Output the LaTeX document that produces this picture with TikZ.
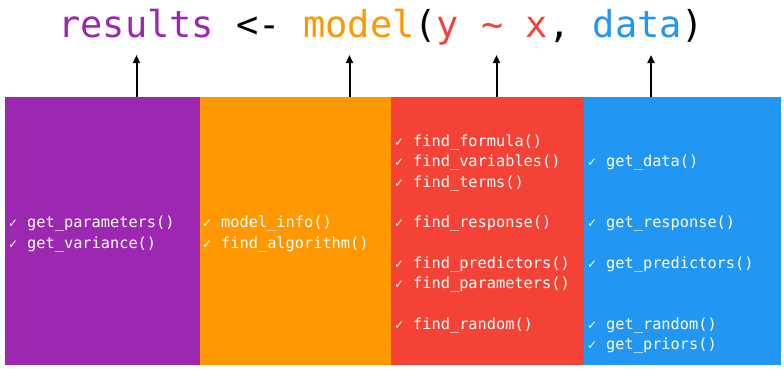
\documentclass[tikz,border=0pt]{standalone}
\usepackage{fontspec}
\usepackage{xcolor}
\usepackage{tikz}
\usetikzlibrary{positioning, arrows.meta}
\newfontfamily\codefont{DejaVu Sans Mono}
\newfontfamily\tickfont{DejaVu Sans}
\definecolor{colpurple}{HTML}{9C27B0}
\definecolor{colorange}{HTML}{FF9800}
\definecolor{colred}{HTML}{F44336}
\definecolor{colblue}{HTML}{2196F3}
\newcommand{\fnitem}[1]{\makebox[19pt][l]{\tickfont\fontsize{12}{12}\selectfont\symbol{"2713}}#1}

\begin{document}
\begin{tikzpicture}[x=1pt,y=-1pt,
  col/.style={minimum height=268pt, inner sep=0pt, outer sep=0pt},
  fn/.style={anchor=base west, inner sep=0pt, text=white, font=\codefont\fontsize{15.3}{15.3}\selectfont},
  arr/.style={-{Triangle[length=8pt,width=7pt]}, line width=2pt}]
\useasboundingbox (0,0) rectangle (784,368);

\node[font=\codefont\fontsize{37}{37}\selectfont, anchor=base west, inner sep=0pt](call) at (58,37)
  {{\color{colpurple}results} <- {\color{colorange}model}({\color{colred}y \textasciitilde{} x}, {\color{colblue}data})};

\node[col,fill=colpurple,minimum width=195pt,anchor=north west](cparam) at (5,97) {};
\node[col,fill=colorange,minimum width=191pt,right=0pt of cparam](cinfo) {};
\node[col,fill=colred,minimum width=193pt,right=0pt of cinfo](cformula) {};
\node[col,fill=colblue,minimum width=197pt,right=0pt of cformula](cdata) {};

\coordinate (tres) at (136.5,55);
\coordinate (tmod) at (349.5,55);
\coordinate (tfor) at (496.5,55);
\coordinate (tdat) at (651,55);
\foreach \c/\t in {cparam/tres,cinfo/tmod,cformula/tfor,cdata/tdat}{
  \draw[arr](\c.north -| \t)--(\t);}

\foreach \k/\t in {4/get\_parameters(),5/get\_variance()}{
  \node[fn](param\k) at (8,{146.5+20.3*\k}) {\fnitem{\t}};}
\foreach \k/\t in {4/model\_info(),5/find\_algorithm()}{
  \node[fn](info\k) at (202,{146.5+20.3*\k}) {\fnitem{\t}};}
\foreach \k/\t in {0/find\_formula(),1/find\_variables(),2/find\_terms(),4/find\_response(),
  6/find\_predictors(),7/find\_parameters(),9/find\_random()}{
  \node[fn](form\k) at (394,{146.5+20.3*\k}) {\fnitem{\t}};}
\foreach \k/\t in {1/get\_data(),4/get\_response(),6/get\_predictors(),9/get\_random(),10/get\_priors()}{
  \node[fn](data\k) at (587,{146.5+20.3*\k}) {\fnitem{\t}};}

\end{tikzpicture}
\end{document}
